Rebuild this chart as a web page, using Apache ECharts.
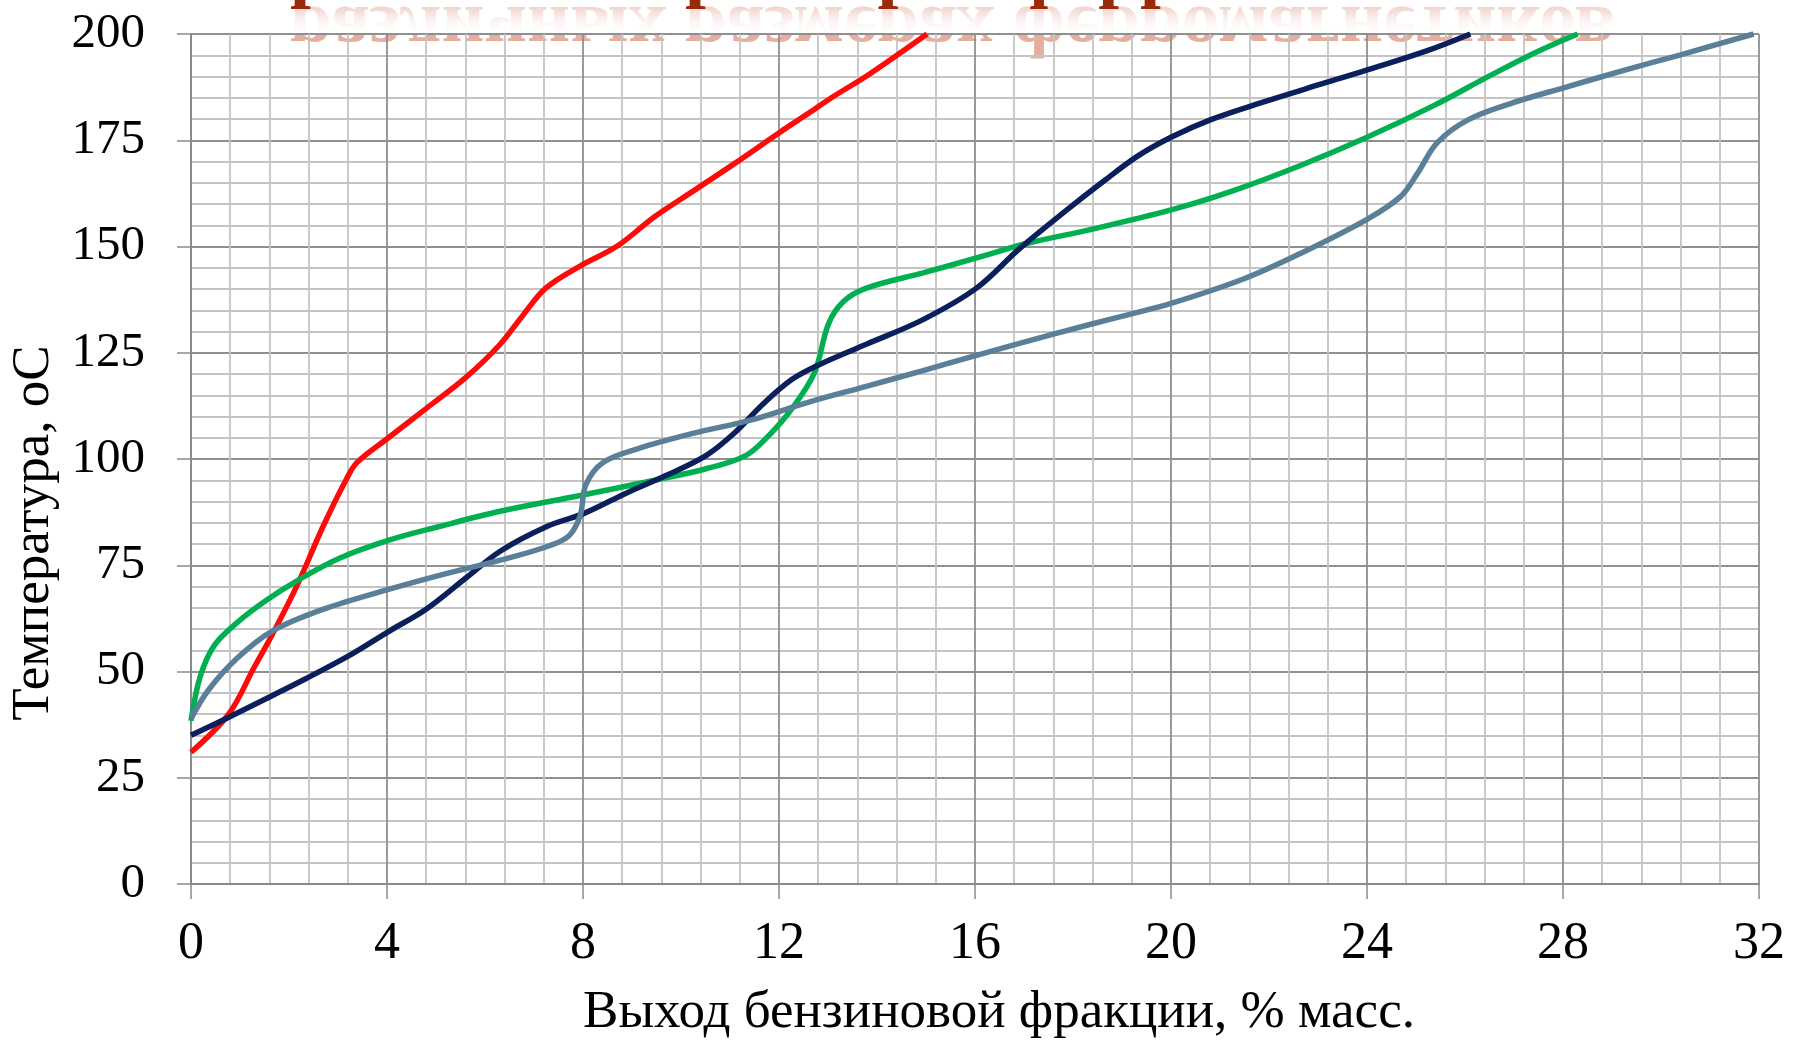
<!DOCTYPE html>
<html>
<head>
<meta charset="utf-8">
<script src="https://cdn.jsdelivr.net/npm/echarts@6/dist/echarts.min.js"></script>
<style>
  html, body { margin: 0; padding: 0; background: #ffffff; }
  #chart { width: 1794px; height: 1040px; }
</style>
</head>
<body>
<div id="chart"></div>
<script>
// Axis ranges and tick labels
const xTicks = [0, 4, 8, 12, 16, 20, 24, 28, 32];
const yTicks = [0, 25, 50, 75, 100, 125, 150, 175, 200];

// Curve 1 (red)
const redX = [0, 0.77, 1.29, 1.64, 2.17, 2.69, 3.16, 3.39, 4.03, 4.79, 5.61, 6.31, 6.78, 7.24, 7.94, 8.70, 9.46, 10.27, 11.09, 12.02, 12.61, 13.07, 13.85, 15.02];
const redT = [31.0, 40, 51, 58.3, 70.4, 84, 95, 99.2, 105, 111.8, 119.2, 127, 133.9, 140.2, 145.4, 150.1, 157, 163.2, 169.5, 176.9, 181.4, 185, 190.6, 200];

// Curve 2 (green)
const greenX = [0, 0.19, 0.48, 0.94, 1.53, 2.17, 3.04, 4.04, 5.03, 6.31, 7.94, 9.46, 10.51, 11.32, 11.79, 12.26, 12.72, 13.01, 13.31, 13.78, 14.94, 16.03, 17.05, 18.4, 20.0, 21.26, 22.63, 24.0, 25.37, 26.51, 27.43, 28.3];
const greenT = [38.4, 48.9, 56.2, 61.5, 66.7, 71.4, 76.7, 80.9, 84, 87.7, 91.4, 95, 97.7, 100.8, 105.5, 111.8, 120.2, 131.8, 137, 140.2, 143.8, 147.3, 150.7, 154.1, 158.6, 163.1, 169, 175.7, 183.2, 190.2, 195.6, 200];

// Curve 3 (navy)
const navyX = [0, 0.71, 1.53, 2.34, 3.28, 4.03, 4.79, 5.61, 6.31, 7.24, 8.02, 8.87, 9.69, 10.51, 11.09, 11.67, 12.26, 12.84, 13.78, 14.94, 16.03, 16.92, 17.83, 18.63, 19.31, 20.0, 20.8, 21.83, 23.09, 24.11, 25.26, 26.11];
const navyT = [35.0, 38.9, 43.6, 48.3, 54.1, 59.4, 64.6, 72, 78.3, 84, 87.2, 91.9, 96.1, 100.8, 106.1, 112.9, 118.7, 122.3, 127, 132.8, 140.2, 149.6, 158.2, 165.4, 171.2, 175.7, 179.8, 183.8, 188.3, 191.9, 196.2, 200];

// Curve 4 (steel blue)
const steelX = [0, 0.36, 0.94, 1.64, 2.69, 4.03, 5.03, 6.31, 7.24, 7.71, 7.94, 8.06, 8.41, 9.11, 10.27, 11.44, 12.61, 13.78, 14.94, 16.03, 17.6, 18.97, 20.0, 21.49, 22.63, 24.0, 24.69, 25.03, 25.43, 26.06, 26.97, 28.03, 29.26, 30.4, 31.89];
const steelT = [38.9, 45.7, 53.1, 59.4, 64.6, 69.3, 72.5, 76.2, 79.3, 81.9, 86.6, 94, 99.2, 102.4, 106.1, 109.2, 113.4, 117.1, 120.8, 124.4, 129.4, 133.5, 136.6, 142.4, 148.3, 156.4, 161.8, 167.2, 174.4, 179.8, 183.8, 187.4, 191.5, 195.1, 200];

const xTitle = 'Выход бензиновой фракции, % масс.';
const yTitle = 'Температура, оС';
const headTitle = 'различных размерах ферромагнетиков';

const pairs = (xs, ys) => xs.map((x, i) => [x, ys[i]]);

const serif = '"Liberation Serif", "Times New Roman", serif';
const headFont = 'bold 75px ' + serif;

function curve(name, color, xs, ys) {
  return {
    name: name,
    type: 'line',
    data: pairs(xs, ys),
    smooth: 0.35,
    showSymbol: false,
    symbol: 'none',
    lineStyle: { color: color, width: 5.5 },
    itemStyle: { color: color },
    z: 5
  };
}

const chart = echarts.init(document.getElementById('chart'), null, { renderer: 'canvas' });

chart.setOption({
  backgroundColor: '#ffffff',
  animation: false,
  grid: { left: 191, right: 35, top: 34, bottom: 156, containLabel: false },
  xAxis: {
    type: 'value',
    min: xTicks[0],
    max: xTicks[xTicks.length - 1],
    interval: 4,
    axisLine: { show: true, lineStyle: { color: '#8a8a8a', width: 2 } },
    axisTick: { show: true, length: 15, lineStyle: { color: '#8a8a8a', width: 1.5 } },
    minorTick: { show: false, splitNumber: 5 },
    axisLabel: {
      margin: 34,
      color: '#000000',
      fontFamily: serif,
      fontSize: 52,
      formatter: v => String(v)
    },
    splitLine: { show: true, lineStyle: { color: '#8f8f8f', width: 1.8 } },
    minorSplitLine: { show: true, lineStyle: { color: '#c4c4c4', width: 1.8 } }
  },
  yAxis: {
    type: 'value',
    min: yTicks[0],
    max: yTicks[yTicks.length - 1],
    interval: 25,
    axisLine: { show: true, lineStyle: { color: '#8a8a8a', width: 2 } },
    axisTick: { show: true, length: 14, lineStyle: { color: '#8a8a8a', width: 1.5 } },
    minorTick: { show: false, splitNumber: 5 },
    axisLabel: {
      margin: 46,
      color: '#000000',
      fontFamily: serif,
      fontSize: 49,
      formatter: v => String(v)
    },
    splitLine: { show: true, lineStyle: { color: '#8f8f8f', width: 1.8 } },
    minorSplitLine: { show: true, lineStyle: { color: '#c4c4c4', width: 1.8 } }
  },
  series: [
    curve('Кривая 1', '#ff0a0a', redX, redT),
    curve('Кривая 2', '#00b050', greenX, greenT),
    curve('Кривая 3', '#0b1f5c', navyX, navyT),
    curve('Кривая 4', '#5a7f99', steelX, steelT)
  ],
  graphic: [
    // faded mirror image of the heading
    {
      type: 'group',
      x: 0,
      y: 0,
      scaleY: -1,
      z: 0,
      children: [{
        type: 'text',
        x: 290,
        y: -26,
        style: {
          text: headTitle,
          font: headFont,
          verticalAlign: 'middle',
          fill: 'rgba(214,120,95,0.6)'
        }
      }]
    },
    // fade-out veil over the mirror image
    {
      type: 'rect',
      z: 1,
      shape: { x: 250, y: 0, width: 1450, height: 33 },
      style: {
        fill: new echarts.graphic.LinearGradient(0, 0, 0, 1, [
          { offset: 0, color: 'rgba(255,255,255,0.25)' },
          { offset: 0.6, color: 'rgba(255,255,255,0.85)' },
          { offset: 1, color: 'rgba(255,255,255,1)' }
        ])
      }
    },
    // heading: only the descenders of the upper line remain on the page
    {
      type: 'text',
      x: 290,
      y: -26,
      z: 2,
      style: {
        text: headTitle,
        font: headFont,
        fill: '#9a2a0a',
        verticalAlign: 'middle'
      }
    },
    {
      type: 'text',
      x: 999,
      y: 1013,
      style: {
        text: xTitle,
        font: '53px ' + serif,
        fill: '#000000',
        align: 'center',
        verticalAlign: 'middle'
      }
    },
    {
      type: 'text',
      x: 34,
      y: 533,
      rotation: Math.PI / 2,
      style: {
        text: yTitle,
        font: '53px ' + serif,
        fill: '#000000',
        align: 'center',
        verticalAlign: 'middle'
      }
    }
  ]
});
</script>
</body>
</html>
